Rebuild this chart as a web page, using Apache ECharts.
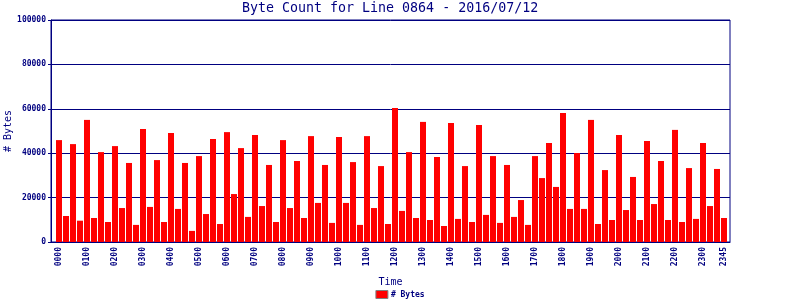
<!DOCTYPE html>
<html>
<head>
<meta charset="utf-8">
<script src="https://cdn.jsdelivr.net/npm/echarts@6/dist/echarts.min.js"></script>
<style>html,body{margin:0;padding:0;background:#fff}#c{width:800px;height:300px}</style>
</head>
<body>
<div id="c"></div>
<script>
var times = ["0000","0015","0030","0045","0100","0115","0130","0145","0200","0215","0230","0245",
"0300","0315","0330","0345","0400","0415","0430","0445","0500","0515","0530","0545",
"0600","0615","0630","0645","0700","0715","0730","0745","0800","0815","0830","0845",
"0900","0915","0930","0945","1000","1015","1030","1045","1100","1115","1130","1145",
"1200","1215","1230","1245","1300","1315","1330","1345","1400","1415","1430","1445",
"1500","1515","1530","1545","1600","1615","1630","1645","1700","1715","1730","1745",
"1800","1815","1830","1845","1900","1915","1930","1945","2000","2015","2030","2045",
"2100","2115","2130","2145","2200","2215","2230","2245","2300","2315","2330","2345"];
var byteCounts = [45900,11700,44100,9600, 55000,10800,40500,9000, 43200,15300,35600,7700,
50900,15800,36900,9000, 49100,14900,35600,5000, 38700,12600,46400,8100,
49500,21600,42300,11300, 48200,16200,34700,9000, 45900,15300,36500,10800,
47700,17600,34700,8600, 47300,17600,36000,7700, 47700,15300,34200,8100,
60400,14000,40500,10800, 54100,9900,38300,7200, 53600,10400,34200,9000,
52700,12200,38700,8600, 34700,11300,18900,7700, 38700,28800,44600,24800,
58100,14900,40100,14900, 55000,8100,32400,9900, 48200,14400,29300,9900,
45500,17100,36500,9900, 50500,9000,33300,10400, 44600,16200,32900,10800];
var yTicks = [0,20000,40000,60000,80000,100000];
var titleText = "Byte Count for Line 0864 - 2016/07/12";
var seriesName = "# Bytes";

var labelIdx = [];
times.forEach(function(t,i){ if (t.slice(2)==="00" || i===times.length-1) labelIdx.push(i); });
var navy = "#000080";
var mono = "DejaVu Sans Mono";
var chart = echarts.init(document.getElementById('c'), null, {renderer:'canvas'});
chart.setOption({
  animation:false,
  backgroundColor:'#ffffff',
  title:{text:titleText,left:242,top:2,padding:0,
    textStyle:{fontFamily:mono,fontSize:13.3,fontWeight:'normal',color:navy}},
  legend:{bottom:0,left:'center',itemWidth:12,itemHeight:8,itemGap:10,padding:[0,0,1,0],
    textStyle:{fontFamily:mono,fontSize:8,fontWeight:'bold',color:navy,padding:[0,0,0,-2]},
    data:[{name:seriesName,icon:'rect',itemStyle:{color:'#ff0000',borderColor:'#808080',borderWidth:1}}]},
  grid:{left:51,right:70,top:20,bottom:58,containLabel:false,outerBoundsMode:'none',
    show:true,borderColor:navy,borderWidth:1,backgroundColor:'transparent'},
  xAxis:{type:'value',min:-8/7,max:95+6/7,
    name:'Time',nameLocation:'middle',nameGap:35,nameMoveOverlap:false,
    nameTextStyle:{fontFamily:mono,fontSize:10,color:navy},
    axisLine:{show:true,onZero:false,lineStyle:{color:navy,width:1}},
    axisTick:{show:false},
    splitLine:{show:false},
    axisLabel:{customValues:labelIdx,rotate:90,margin:5,fontFamily:mono,fontSize:8,fontWeight:'bold',color:navy,
      formatter:function(v){return times[Math.round(v)];}}},
  yAxis:{type:'value',min:yTicks[0],max:yTicks[yTicks.length-1],interval:yTicks[1]-yTicks[0],
    name:seriesName,nameLocation:'middle',nameGap:43,nameRotate:90,nameMoveOverlap:false,
    nameTextStyle:{fontFamily:mono,fontSize:10,color:navy,verticalAlign:'middle'},
    axisLine:{show:true,onZero:false,lineStyle:{color:navy,width:1}},
    axisTick:{show:true,length:3,lineStyle:{color:navy}},
    splitLine:{show:true,lineStyle:{color:navy,width:1}},
    axisLabel:{margin:5,fontFamily:mono,fontSize:8,fontWeight:'bold',color:navy,
      formatter:function(v){return String(v);}}},
  series:[{name:seriesName,type:'bar',barWidth:6,
    itemStyle:{color:'#ff0000'},
    data:byteCounts.map(function(v,i){return [i,v];})}]
});
</script>
</body>
</html>
